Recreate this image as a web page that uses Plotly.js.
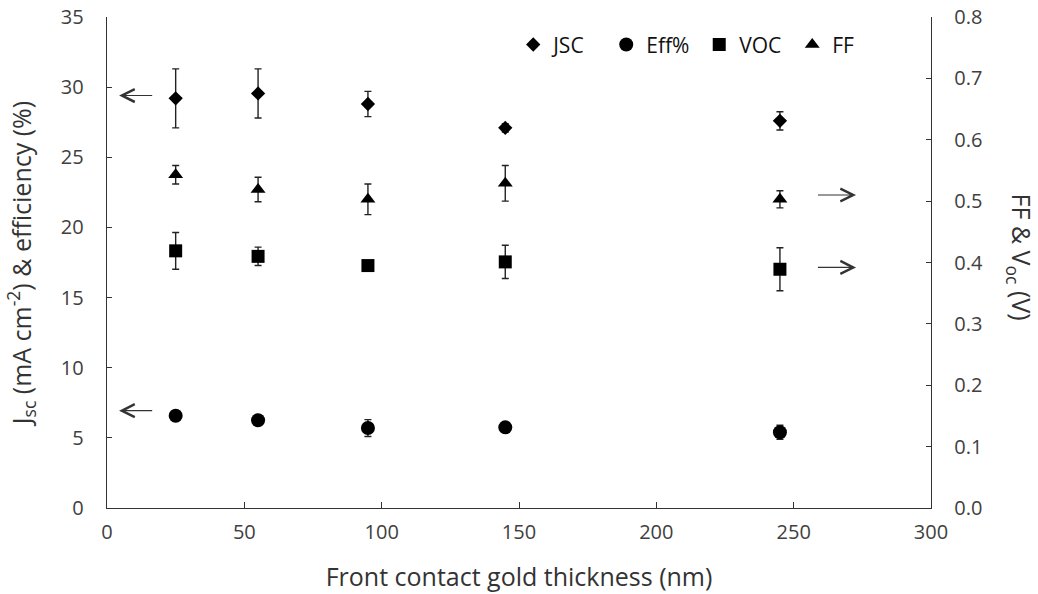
<!DOCTYPE html>
<html>
<head>
<meta charset="utf-8">
<script src="https://cdn.plot.ly/plotly-3.0.1.min.js"></script>
<style>html,body{margin:0;padding:0;background:#fff;}#chart{width:1038px;height:594px;}</style>
</head>
<body>
<div id="chart"></div>
<script>
// Data
const thickness = [25, 55, 95, 145, 245];
const jsc      = [29.2, 29.55, 28.8, 27.1, 27.6];
const jscErr   = [2.1, 1.75, 0.9, 0.3, 0.65];
const eff      = [6.58, 6.25, 5.7, 5.75, 5.4];
const effErr   = [0.2, 0.2, 0.6, 0.2, 0.5];
const voc      = [0.419, 0.41, 0.395, 0.401, 0.389];
const vocErr   = [0.03, 0.015, 0.004, 0.027, 0.035];
const ff       = [0.543, 0.519, 0.503, 0.529, 0.503];
const ffErr    = [0.015, 0.02, 0.025, 0.029, 0.014];
const seriesNames = ['JSC', 'Eff%', 'VOC', 'FF'];

const FONT = '"Open Sans", "Liberation Sans", sans-serif';
const errStyle = (arr) => ({type: 'data', array: arr, visible: true, color: '#222', thickness: 1.4, width: 3.5});

const traces = [
  {x: thickness, y: jsc, name: seriesNames[0], type: 'scatter', mode: 'markers', yaxis: 'y',
   marker: {symbol: 'diamond', size: 11, color: '#000'}, error_y: errStyle(jscErr)},
  {x: thickness, y: eff, name: seriesNames[1], type: 'scatter', mode: 'markers', yaxis: 'y',
   marker: {symbol: 'circle', size: 14, color: '#000'}, error_y: errStyle(effErr)},
  {x: thickness, y: voc, name: seriesNames[2], type: 'scatter', mode: 'markers', yaxis: 'y2',
   marker: {symbol: 'square', size: 13, color: '#000'}, error_y: errStyle(vocErr)},
  {x: thickness, y: ff, name: seriesNames[3], type: 'scatter', mode: 'markers', yaxis: 'y2',
   marker: {symbol: 'triangle-up', size: 13, color: '#000'}, error_y: errStyle(ffErr)}
];

const arrowCommon = {showarrow: true, arrowhead: 5, arrowsize: 2.3, arrowwidth: 1.1, arrowcolor: '#333', text: '', axref: 'x'};

const layout = {
  width: 1038, height: 594,
  margin: {l: 107, r: 107, t: 17, b: 86},
  paper_bgcolor: '#fff', plot_bgcolor: '#fff',
  font: {family: FONT, size: 20, color: '#404040'},
  showlegend: true,
  legend: {orientation: 'h', x: 0.493, xanchor: 'left', y: 0.985, yanchor: 'top',
           font: {family: FONT, size: 21, color: '#111'}, bgcolor: 'rgba(0,0,0,0)',
           itemwidth: 30, entrywidthmode: 'pixels', entrywidth: 48},
  xaxis: {range: [0, 300], dtick: 50, tick0: 0, showgrid: false, zeroline: false,
          showline: true, linecolor: '#333', linewidth: 1.3, ticks: 'inside', ticklen: 6, tickcolor: '#333',
          ticklabelstandoff: 6,
          title: {text: 'Front contact gold thickness (nm)', font: {family: FONT, size: 25, color: '#333'}, standoff: 24}},
  yaxis: {range: [0, 35], dtick: 5, tick0: 0, showgrid: false, zeroline: false,
          showline: true, linecolor: '#333', linewidth: 1.3, ticks: 'inside', ticklen: 5, tickcolor: '#333',
          ticklabelstandoff: 18,
          title: {text: 'J<sub>sc</sub> (mA cm<sup>-2</sup>) & efficiency (%)', font: {family: FONT, size: 25, color: '#333'}, standoff: 22}},
  yaxis2: {range: [0, 0.8], dtick: 0.1, tick0: 0, tickformat: '.1f', overlaying: 'y', side: 'right',
           showgrid: false, zeroline: false, showline: true, linecolor: '#333', linewidth: 1.3,
           ticks: 'inside', ticklen: 5, tickcolor: '#333', ticklabelstandoff: 18},
  annotations: [
    Object.assign({}, arrowCommon, {xref: 'x', yref: 'y', ayref: 'y', x: 4.4, y: 29.4, ax: 17, ay: 29.4}),
    Object.assign({}, arrowCommon, {xref: 'x', yref: 'y', ayref: 'y', x: 4.4, y: 6.94, ax: 17, ay: 6.94}),
    Object.assign({}, arrowCommon, {xref: 'x', yref: 'y2', ayref: 'y2', x: 272.7, y: 0.51, ax: 258.3, ay: 0.51}),
    Object.assign({}, arrowCommon, {xref: 'x', yref: 'y2', ayref: 'y2', x: 272.7, y: 0.392, ax: 258.3, ay: 0.392}),
    {xref: 'paper', yref: 'paper', x: 1.108, y: 0.51, xanchor: 'center', yanchor: 'middle', showarrow: false,
     textangle: 90, text: 'FF & V<sub>oc</sub> (V)', font: {family: FONT, size: 25, color: '#333'}}
  ]
};

Plotly.newPlot('chart', traces, layout, {displayModeBar: false, staticPlot: true});
</script>
</body>
</html>
